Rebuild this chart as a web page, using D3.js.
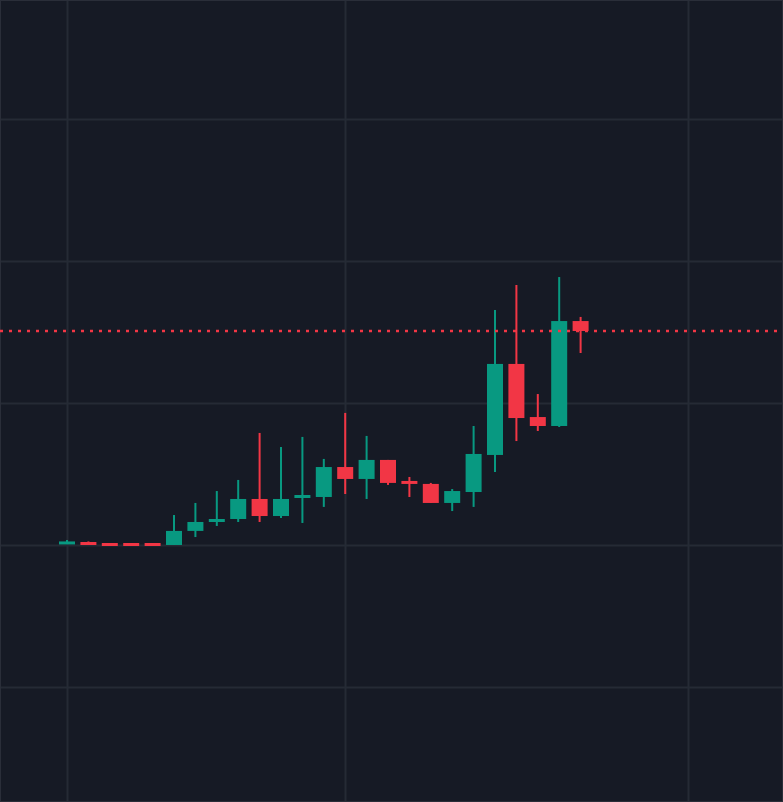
<!DOCTYPE html>
<html><head><meta charset="utf-8">
<script src="https://cdn.jsdelivr.net/npm/d3@7"></script>
<style>html,body{margin:0;padding:0;background:#161a25;overflow:hidden}</style>
</head><body><svg id="c" width="783" height="802"></svg>
<script>
const opens  = [10.18,10.21,10.14,10.14,10.14,10.00,10.99,11.62,11.83,13.24,12.04,13.35,13.38,15.49,14.65,15.99,14.51,14.30,12.96,13.73,16.34,22.75,19.01,18.38,25.77];
const highs  = [10.35,10.25,10.14,10.14,10.14,12.11,12.96,13.80,14.58,17.89,16.90,17.61,16.06,19.30,17.68,15.99,14.79,14.37,13.94,18.38,26.55,28.31,20.63,28.87,26.06];
const lows   = [10.14,10.07,10.07,10.07,10.04,10.00,10.56,11.34,11.62,11.62,11.90,11.55,12.68,13.59,13.24,14.23,13.38,12.96,12.39,12.68,15.14,17.32,18.03,18.31,23.52];
const closes = [10.25,10.11,10.07,10.07,10.04,10.99,11.62,11.83,13.24,12.04,13.24,13.52,15.49,14.65,15.99,14.37,14.37,12.96,13.80,16.41,22.75,18.94,18.38,25.77,25.07];
const yTicks = [0,10,20,30,40];
const xGridIdx = [0,13,29];

const W=783,H=802;
const svg=d3.select("#c");
svg.append("rect").attr("width",W).attr("height",H).attr("fill","#161a25");
const x=d3.scaleLinear().domain([-3.131,33.458]).range([0,W]);
const y=d3.scaleLinear().domain([-8.1,48.38]).range([H,0]);
const g=svg.append("g");
g.selectAll(".hg").data(yTicks).join("line").attr("x1",0).attr("x2",W)
 .attr("y1",d=>Math.round(y(d))+0.5).attr("y2",d=>Math.round(y(d))+0.5).attr("stroke","#252a35").attr("stroke-width",2);
g.selectAll(".vg").data(xGridIdx).join("line").attr("y1",0).attr("y2",H)
 .attr("x1",d=>Math.round(x(d))+0.5).attr("x2",d=>Math.round(x(d))+0.5).attr("stroke","#252a35").attr("stroke-width",2);
svg.append("rect").attr("x",0.5).attr("y",0.5).attr("width",W-1).attr("height",H-1).attr("fill","none").attr("stroke","#2a2e39");
const data=opens.map((o,i)=>({i,o,h:highs[i],l:lows[i],c:closes[i]}));
const col=d=>d.c>=d.o?"#089981":"#f23645";
const bw=16;
svg.selectAll(".w").data(data).join("rect")
 .attr("x",d=>x(d.i)-1).attr("width",2)
 .attr("y",d=>y(d.h)).attr("height",d=>Math.max(1,y(d.l)-y(d.h))).attr("fill",col);
svg.selectAll(".b").data(data).join("rect")
 .attr("x",d=>x(d.i)-bw/2).attr("width",bw)
 .attr("y",d=>y(Math.max(d.o,d.c))).attr("height",d=>Math.max(3,Math.abs(y(d.o)-y(d.c)))).attr("fill",col);
const last=closes[closes.length-1];
svg.append("line").attr("x1",0).attr("x2",W).attr("y1",y(last)).attr("y2",y(last))
 .attr("stroke","#f23645").attr("stroke-width",2.5).attr("stroke-dasharray","3,6");
</script></body></html>
